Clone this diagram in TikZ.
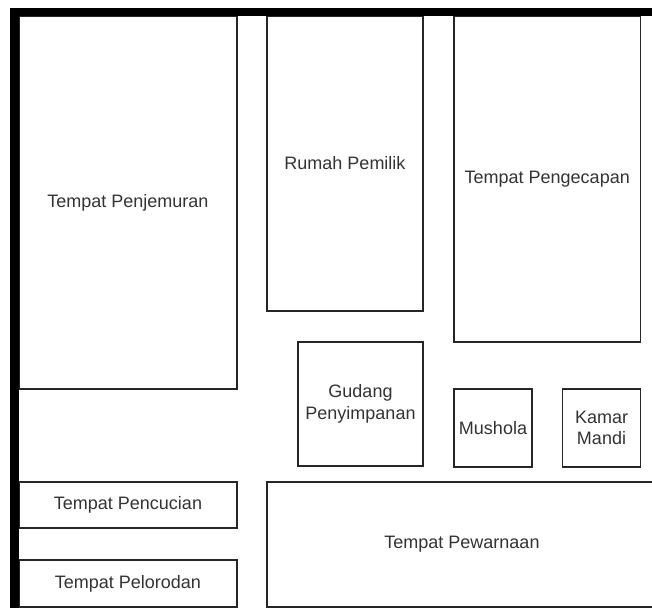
\documentclass[tikz,border=0pt]{standalone}
\usepackage{fontspec}
\setmainfont{Liberation Sans}
\begin{document}
\begin{tikzpicture}[x=1pt,y=-1pt,
  room/.style={draw=black!85, line width=1.4pt, fill=white, rectangle,
    anchor=north west, inner sep=0pt, outer sep=0pt, align=center,
    text=black!80, font=\fontsize{18}{21.6}\selectfont},
  wall/.style={fill=black}]
\useasboundingbox (0,0) rectangle (652,609);
\clip (0,0) rectangle (652,609);
\fill[white] (0,0) rectangle (652,609);

% rooms, placed by their top-left corners
\node[room, minimum width=218, minimum height=373] (penjemuran) at (19,16) {Tempat Penjemuran};
\node[room, minimum width=156, minimum height=295] (rumah) at (267,16) {Rumah Pemilik};
\node[room, minimum width=186.5, minimum height=326] (pengecapan) at (454,16) {Tempat Pengecapan};
\node[room, minimum width=125, minimum height=124] (gudang) at (298,342) {Gudang\\Penyimpanan};
\node[room, minimum width=78, minimum height=78] (mushola) at (454,389) {Mushola};
\node[room, minimum width=78, minimum height=78] (kamar) at (562.5,389) {Kamar\\Mandi};
\node[room, minimum width=218, minimum height=46] (pencucian) at (19,482) {Tempat Pencucian};
\node[room, minimum width=218, minimum height=47] (pelorodan) at (19,560) {Tempat Pelorodan};
\node[room, minimum width=390, minimum height=125] (pewarnaan) at (267,482) {Tempat Pewarnaan};

% thick outer walls along the top and the left side
\fill[wall] (10,8) rectangle (652,16.5);
\fill[wall] (10,8) rectangle (19,607.5);
\end{tikzpicture}
\end{document}
